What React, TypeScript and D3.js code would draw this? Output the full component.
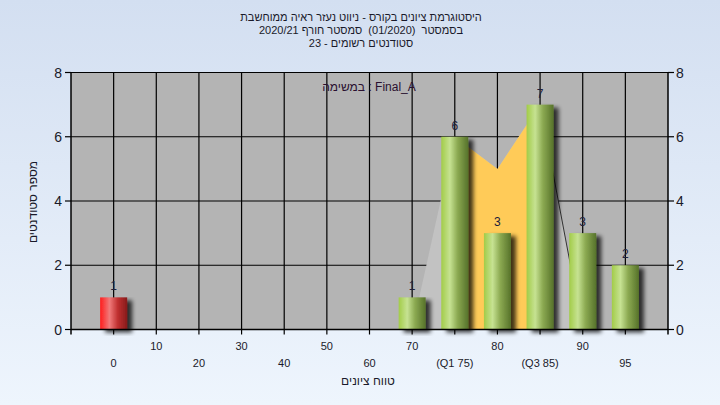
import React from "react";
import * as d3 from "d3";

const categories = ["0", "10", "20", "30", "40", "50", "60", "70", "(Q1 75)", "80", "(Q3 85)", "90", "95"];
const counts = [1, 0, 0, 0, 0, 0, 0, 1, 6, 3, 7, 3, 2];
const failingCategories = ["0"];
const areaCategories = ["70", "(Q1 75)", "80", "(Q3 85)", "90"];
const areaValues = [0, 6, 5, 7, 0];
const iqrCategories = ["(Q1 75)", "80", "(Q3 85)"];
const yTicks = [0, 2, 4, 6, 8];
const titleLines = [
  "היסטוגרמת ציונים בקורס - ניווט נעזר ראיה ממוחשבת",
  "בסמסטר  (01/2020)  סמסטר חורף 2020/21",
  "סטודנטים רשומים - 23",
];
const legendText = "במשימה : Final_A";
const yTitle = "מספר סטודנטים";
const xTitle = "טווח ציונים";

const W = 720;
const H = 405;
const L = 71;
const R = 668;
const T = 72.5;
const B = 329.5;
const BAR_W = 27;

export default function App() {
  const x = d3.scalePoint<string>().domain(categories).range([L, R]).padding(1);
  const y = d3.scaleLinear().domain([0, 8]).range([B, T]);

  const areaGen = d3
    .area<[string, number]>()
    .x((d) => x(d[0]) as number)
    .y0(y(0))
    .y1((d) => y(d[1]));
  const areaData: [string, number][] = areaCategories.map((c, i) => [c, areaValues[i]]);
  const iqrData = areaData.filter((d) => iqrCategories.includes(d[0]));
  const q3Idx = areaCategories.indexOf("(Q3 85)");
  const tailLine = d3
    .line<[string, number]>()
    .x((d) => x(d[0]) as number)
    .y((d) => y(d[1]))(areaData.slice(q3Idx));

  const font = "'Liberation Sans', Arial, sans-serif";

  return (
    <div style={{ position: "fixed", left: 0, top: 0, width: W, height: H }}>
      <svg width={W} height={H} style={{ display: "block" }}>
        <defs>
          <linearGradient id="bg" x1="0" y1="0" x2="0" y2="1">
            <stop offset="0%" stopColor="#d3dff1" />
            <stop offset="100%" stopColor="#eef5fd" />
          </linearGradient>
          <linearGradient id="green" x1="0" y1="0" x2="1" y2="0">
            <stop offset="0%" stopColor="#a2cc48" />
            <stop offset="32%" stopColor="#c6e292" />
            <stop offset="60%" stopColor="#8caa52" />
            <stop offset="100%" stopColor="#56722a" />
          </linearGradient>
          <linearGradient id="red" x1="0" y1="0" x2="1" y2="0">
            <stop offset="0%" stopColor="#ff1c1c" />
            <stop offset="35%" stopColor="#f07a7a" />
            <stop offset="65%" stopColor="#c03030" />
            <stop offset="100%" stopColor="#861a1a" />
          </linearGradient>
          <filter id="shadow" x="-30%" y="-10%" width="180%" height="130%">
            <feGaussianBlur in="SourceAlpha" stdDeviation="2.2" />
            <feOffset dx="5" dy="3" result="ob" />
            <feComponentTransfer>
              <feFuncA type="linear" slope="0.75" />
            </feComponentTransfer>
            <feMerge>
              <feMergeNode />
              <feMergeNode in="SourceGraphic" />
            </feMerge>
          </filter>
        </defs>
        <rect x={0} y={0} width={W} height={H} fill="url(#bg)" />

        {/* titles */}
        {titleLines.map((t, i) => (
          <text
            key={i}
            x={361}
            y={21 + i * 13}
            textAnchor="middle"
            direction="rtl"
            fontFamily={font}
            fontSize={11}
            fill="#1a1a2a"
            style={{ whiteSpace: "pre" }}
          >
            {t}
          </text>
        ))}

        {/* plot background */}
        <rect x={L} y={T} width={R - L} height={B - T} fill="#b4b4b4" />

        {/* grid */}
        {categories.map((c) => (
          <line key={"vg" + c} x1={x(c)} x2={x(c)} y1={T} y2={B} stroke="#000" strokeWidth={1.2} />
        ))}
        {yTicks.slice(1, -1).map((v) => (
          <line key={"hg" + v} x1={L} x2={R} y1={y(v)} y2={y(v)} stroke="#000" strokeWidth={1.2} />
        ))}

        {/* distribution area */}
        <path d={areaGen(areaData) || ""} fill="#c2c2c2" />
        <path d={areaGen(iqrData) || ""} fill="#ffcb58" />
        <path d={tailLine || ""} fill="none" stroke="#333" strokeWidth={1} />

        {/* legend text */}
        <text x={369} y={91} textAnchor="middle" fontFamily={font} fontSize={12} fill="#2a1030">
          {legendText}
        </text>

        {/* bars */}
        {categories.map((c, i) =>
          counts[i] > 0 ? (
            <rect
              key={"b" + c}
              x={(x(c) as number) - BAR_W / 2}
              y={y(counts[i])}
              width={BAR_W}
              height={y(0) - y(counts[i])}
              fill={failingCategories.includes(c) ? "url(#red)" : "url(#green)"}
              filter="url(#shadow)"
            />
          ) : null
        )}
        {categories.map((c, i) =>
          counts[i] > 0 ? (
            <text
              key={"v" + c}
              x={x(c)}
              y={y(counts[i]) - 7}
              textAnchor="middle"
              fontFamily={font}
              fontSize={12}
              fill="#20203a"
            >
              {counts[i]}
            </text>
          ) : null
        )}

        {/* axes frame */}
        <line x1={L} x2={R} y1={T} y2={T} stroke="#000" strokeWidth={1.2} />
        <line x1={L} x2={R} y1={B} y2={B} stroke="#000" strokeWidth={1.5} />
        <line x1={L} x2={L} y1={T} y2={B + 5} stroke="#000" strokeWidth={1.5} />
        <line x1={R} x2={R} y1={T} y2={B + 5} stroke="#000" strokeWidth={1.5} />

        {/* y ticks */}
        {yTicks.map((v) => (
          <g key={"yt" + v}>
            <line x1={L - 6} x2={L} y1={y(v)} y2={y(v)} stroke="#000" strokeWidth={1.2} />
            <line x1={R} x2={R + 6} y1={y(v)} y2={y(v)} stroke="#000" strokeWidth={1.2} />
            <text x={L - 9} y={y(v) + 5} textAnchor="end" fontFamily={font} fontSize={14} fill="#1a1a2a">
              {v}
            </text>
            <text x={R + 8} y={y(v) + 5} textAnchor="start" fontFamily={font} fontSize={14} fill="#1a1a2a">
              {v}
            </text>
          </g>
        ))}

        {/* x ticks */}
        {categories.map((c, i) => (
          <g key={"xt" + c}>
            <line x1={x(c)} x2={x(c)} y1={B} y2={B + 5} stroke="#000" strokeWidth={1.2} />
            <text
              x={x(c)}
              y={i % 2 === 0 ? 367 : 350}
              textAnchor="middle"
              fontFamily={font}
              fontSize={11}
              fill="#1a1a2a"
            >
              {c}
            </text>
          </g>
        ))}

        {/* axis titles */}
        <text
          x={368}
          y={385}
          textAnchor="middle"
          direction="rtl"
          fontFamily={font}
          fontSize={12}
          fill="#1a1a2a"
        >
          {xTitle}
        </text>
        <text
          transform="translate(37,202) rotate(-90)"
          textAnchor="middle"
          direction="rtl"
          fontFamily={font}
          fontSize={12}
          fill="#1a1a2a"
        >
          {yTitle}
        </text>
      </svg>
    </div>
  );
}
